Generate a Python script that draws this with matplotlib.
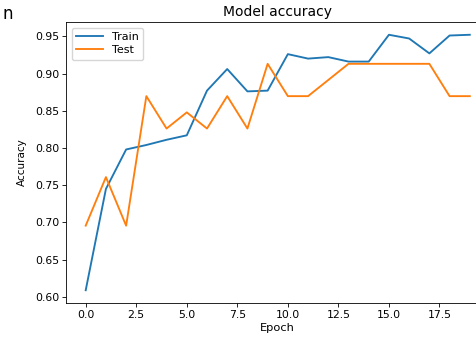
import matplotlib
matplotlib.use("Agg")
import matplotlib.pyplot as plt

epochs = list(range(20))
train_acc = [0.609, 0.745, 0.798, 0.804, 0.811, 0.817, 0.877, 0.906, 0.876, 0.877,
             0.926, 0.920, 0.922, 0.916, 0.916, 0.952, 0.947, 0.927, 0.951, 0.952]
test_acc = [0.6957, 0.7609, 0.6957, 0.8696, 0.8261, 0.8478, 0.8261, 0.8696, 0.8261, 0.9130,
            0.8696, 0.8696, 0.8913, 0.9130, 0.9130, 0.9130, 0.9130, 0.9130, 0.8696, 0.8696]
series_names = ["Train", "Test"]
x_ticks = [0, 2.5, 5, 7.5, 10, 12.5, 15, 17.5]
x_tick_labels = ["0.0", "2.5", "5.0", "7.5", "10.0", "12.5", "15.0", "17.5"]
y_ticks = [0.60, 0.65, 0.70, 0.75, 0.80, 0.85, 0.90, 0.95]
y_tick_labels = ["0.60", "0.65", "0.70", "0.75", "0.80", "0.85", "0.90", "0.95"]

W, H = 477, 339
fig = plt.figure(figsize=(W / 100, H / 100), dpi=100)
# axes extends slightly past the right edge of the canvas
ax = fig.add_axes([66.5 / W, 36 / H, (489 - 66.5) / W, (303 - 22) / H])

ax.plot(epochs, train_acc, color="#1f77b4", lw=1.35, label=series_names[0])
ax.plot(epochs, test_acc, color="#ff7f0e", lw=1.35, label=series_names[1])

ax.set_xticks(x_ticks)
ax.set_xticklabels(x_tick_labels)
ax.set_yticks(y_ticks)
ax.set_yticklabels(y_tick_labels)
ax.tick_params(labelsize=7.8, length=2.8, width=0.6, pad=2.4)
for s in ax.spines.values():
    s.set_linewidth(0.6)

ax.set_title("Model accuracy", fontsize=10, pad=4)
ax.set_xlabel("Epoch", fontsize=8.2, labelpad=2)
ax.set_ylabel("Accuracy", fontsize=7.5, labelpad=6)
ax.legend(loc="upper left", fontsize=8, handlelength=2.4, borderpad=0.4,
          labelspacing=0.3, framealpha=0.8)

fig.text(2 / W, 1 - 19 / H, "n", fontsize=12)

fig.savefig("out.png", dpi=100)
